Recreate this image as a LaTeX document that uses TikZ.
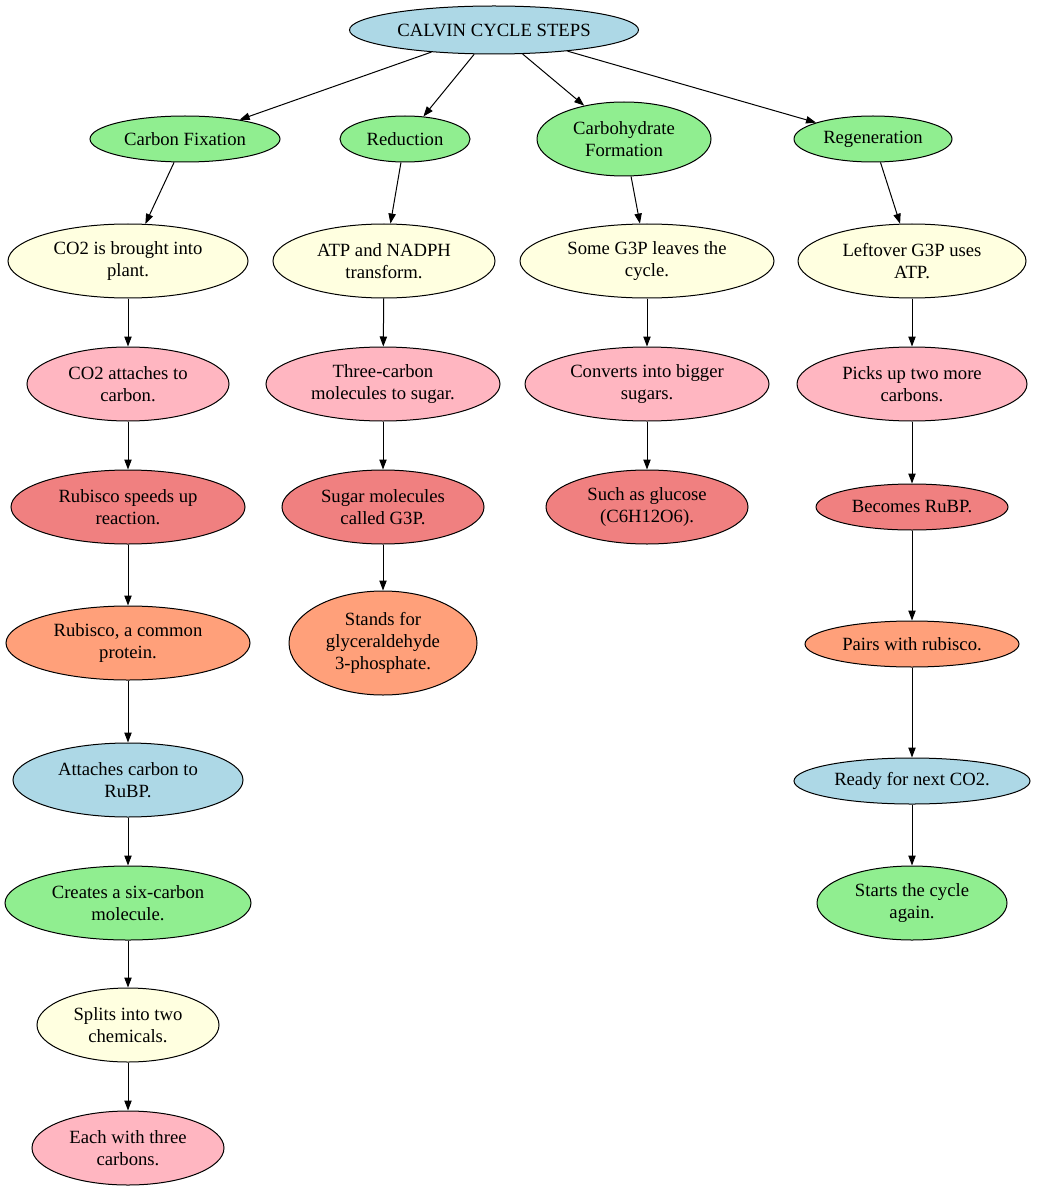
\documentclass[tikz,border=0pt]{standalone}
\usepackage{fontspec}
\setmainfont{Liberation Serif}
\usepackage{tikz}
\usetikzlibrary{shapes.geometric, arrows.meta, positioning}
\definecolor{SkyBlue}{HTML}{ADD8E6}
\definecolor{LeafGreen}{HTML}{90EE90}
\definecolor{PaleYellow}{HTML}{FFFFE0}
\definecolor{SoftPink}{HTML}{FFB6C1}
\definecolor{CoralRed}{HTML}{F08080}
\definecolor{Salmon}{HTML}{FFA07A}
\tikzset{
  stepnode/.style={ellipse, draw=black, line width=0.75pt, inner sep=0pt, minimum height=55.5pt, align=center, font=\fontsize{14}{16.5}\selectfont},
  thinnode/.style={stepnode, minimum height=34.5pt},
  arrow/.style={-{Triangle[length=7.5pt, width=5.5pt]}, line width=0.75pt, black}
}
\begin{document}
\begin{tikzpicture}[x=0.75pt, y=-0.75pt]
  \useasboundingbox[fill=white] (0,0) rectangle (1037,1191);
  % root and the four stages
  \node[thinnode, fill=SkyBlue, minimum width=216.75pt, minimum height=36pt] (calvin) at (494,30) {CALVIN CYCLE STEPS};
  \node[thinnode, fill=LeafGreen, minimum width=142.5pt] (fixation) at (185,139) {Carbon Fixation};
  \node[thinnode, fill=LeafGreen, minimum width=97.5pt] (reduction) at (405,139) {Reduction};
  \node[stepnode, fill=LeafGreen, minimum width=130.5pt] (formation) at (624,139) {Carbohydrate\\Formation};
  \node[thinnode, fill=LeafGreen, minimum width=118.5pt] (regen) at (873,139) {Regeneration};

  % carbon fixation column
  \node[stepnode, fill=PaleYellow, minimum width=180pt] (fixA) at (128,261) {CO2 is brought into\\plant.};
  \node[stepnode, fill=SoftPink, minimum width=151.5pt] (fixB) at (128,384) {CO2 attaches to\\carbon.};
  \node[stepnode, fill=CoralRed, minimum width=175.5pt] (fixC) at (128,507) {Rubisco speeds up\\reaction.};
  \node[stepnode, fill=Salmon, minimum width=183pt] (fixD) at (128,643) {Rubisco, a common\\protein.};
  \node[stepnode, fill=SkyBlue, minimum width=172.5pt] (fixE) at (128,780) {Attaches carbon to\\RuBP.};
  \node[stepnode, fill=LeafGreen, minimum width=184.5pt] (fixF) at (128,903) {Creates a six-carbon\\molecule.};
  \node[stepnode, fill=PaleYellow, minimum width=136.5pt] (fixG) at (128,1025) {Splits into two\\chemicals.};
  \node[stepnode, fill=SoftPink, minimum width=144pt] (fixH) at (128,1148) {Each with three\\carbons.};

  % reduction column
  \node[stepnode, fill=PaleYellow, minimum width=166.5pt] (redA) at (384,261) {ATP and NADPH\\transform.};
  \node[stepnode, fill=SoftPink, minimum width=175.5pt] (redB) at (383,384) {Three-carbon\\molecules to sugar.};
  \node[stepnode, fill=CoralRed, minimum width=151.5pt] (redC) at (383,507) {Sugar molecules\\called G3P.};
  \node[stepnode, fill=Salmon, minimum width=141pt, minimum height=78pt] (redD) at (383,643) {Stands for\\glyceraldehyde\\3-phosphate.};

  % carbohydrate formation column
  \node[stepnode, fill=PaleYellow, minimum width=190.5pt] (formA) at (647,261) {Some G3P leaves the\\cycle.};
  \node[stepnode, fill=SoftPink, minimum width=183pt] (formB) at (647,384) {Converts into bigger\\sugars.};
  \node[stepnode, fill=CoralRed, minimum width=151.5pt] (formC) at (647,507) {Such as glucose\\(C6H12O6).};

  % regeneration column
  \node[stepnode, fill=PaleYellow, minimum width=171pt] (regA) at (912,261) {Leftover G3P uses\\ATP.};
  \node[stepnode, fill=SoftPink, minimum width=172.5pt] (regB) at (912,384) {Picks up two more\\carbons.};
  \node[thinnode, fill=CoralRed, minimum width=144pt] (regC) at (912,507) {Becomes RuBP.};
  \node[thinnode, fill=Salmon, minimum width=160.5pt] (regD) at (912,644) {Pairs with rubisco.};
  \node[thinnode, fill=SkyBlue, minimum width=177pt] (regE) at (912,781) {Ready for next CO2.};
  \node[stepnode, fill=LeafGreen, minimum width=142.5pt] (regF) at (912,903) {Starts the cycle\\again.};

  \draw[arrow] (calvin) -- (fixation);
  \draw[arrow] (calvin) -- (reduction);
  \draw[arrow] (calvin) -- (formation);
  \draw[arrow] (calvin) -- (regen);
  \draw[arrow] (fixation) -- (fixA);
  \draw[arrow] (fixA) -- (fixB);
  \draw[arrow] (fixB) -- (fixC);
  \draw[arrow] (fixC) -- (fixD);
  \draw[arrow] (fixD) -- (fixE);
  \draw[arrow] (fixE) -- (fixF);
  \draw[arrow] (fixF) -- (fixG);
  \draw[arrow] (fixG) -- (fixH);
  \draw[arrow] (reduction) -- (redA);
  \draw[arrow] (redA) -- (redB);
  \draw[arrow] (redB) -- (redC);
  \draw[arrow] (redC) -- (redD);
  \draw[arrow] (formation) -- (formA);
  \draw[arrow] (formA) -- (formB);
  \draw[arrow] (formB) -- (formC);
  \draw[arrow] (regen) -- (regA);
  \draw[arrow] (regA) -- (regB);
  \draw[arrow] (regB) -- (regC);
  \draw[arrow] (regC) -- (regD);
  \draw[arrow] (regD) -- (regE);
  \draw[arrow] (regE) -- (regF);
\end{tikzpicture}
\end{document}
